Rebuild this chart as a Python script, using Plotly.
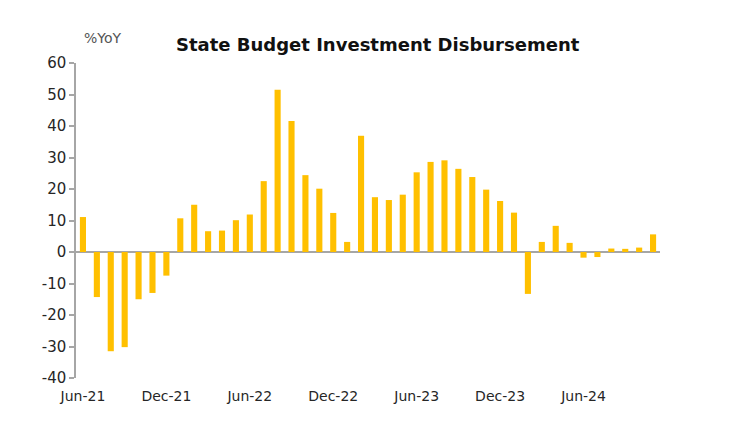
import plotly.graph_objects as go

months = ["Jun-21","Jul-21","Aug-21","Sep-21","Oct-21","Nov-21","Dec-21",
          "Jan-22","Feb-22","Mar-22","Apr-22","May-22","Jun-22","Jul-22","Aug-22","Sep-22","Oct-22","Nov-22","Dec-22",
          "Jan-23","Feb-23","Mar-23","Apr-23","May-23","Jun-23","Jul-23","Aug-23","Sep-23","Oct-23","Nov-23","Dec-23",
          "Jan-24","Feb-24","Mar-24","Apr-24","May-24","Jun-24","Jul-24","Aug-24","Sep-24","Oct-24","Nov-24"]
values = [11.1, -14.3, -31.5, -30.2, -15.0, -13.0, -7.5,
          10.7, 15.0, 6.6, 6.8, 10.1, 11.9, 22.5, 51.5, 41.6, 24.4, 20.1, 12.4,
          3.2, 36.9, 17.4, 16.5, 18.2, 25.3, 28.6, 29.1, 26.4, 23.8, 19.8, 16.2,
          12.5, -13.3, 3.2, 8.3, 2.9, -1.8, -1.6, 1.1, 1.0, 1.4, 5.6]
tick_labels = ["Jun-21", "Dec-21", "Jun-22", "Dec-22", "Jun-23", "Dec-23", "Jun-24"]
y_ticks = [-40, -30, -20, -10, 0, 10, 20, 30, 40, 50, 60]

xs = list(range(len(months)))
tick_pos = [months.index(t) for t in tick_labels]

font_family = "DejaVu Sans"
fig = go.Figure(go.Bar(x=xs, y=values, marker_color="#FFC000", marker_line_width=0,
                       hovertext=months))
fig.update_layout(
    width=730, height=427,
    margin=dict(l=68, r=78, t=55, b=57),
    paper_bgcolor="white", plot_bgcolor="white",
    bargap=0.56, showlegend=False,
    font=dict(family=font_family, size=13, color="#262626"),
)
fig.update_xaxes(range=[-0.5, len(months) - 0.5], tickmode="array",
                 tickvals=tick_pos, ticktext=tick_labels, showgrid=False,
                 showline=False, zeroline=False, ticks="", ticklabelstandoff=8,
                 tickfont=dict(size=14, color="#262626"))
fig.update_yaxes(range=[-40, 60], tickmode="array", tickvals=y_ticks,
                 ticktext=[str(v) for v in y_ticks],
                 showgrid=False, showline=True, linecolor="#A6A6A6", linewidth=1.5,
                 ticks="outside", ticklen=5, tickcolor="#A6A6A6", tickwidth=1.5,
                 zeroline=True, zerolinecolor="#A6A6A6", zerolinewidth=2,
                 tickfont=dict(size=15, color="#262626"))
fig.add_annotation(text="<b>State Budget Investment Disbursement</b>", xref="paper", yref="paper",
                   x=(378 - 76) / (660 - 76), y=1 + (63 - 45) / (378 - 63), xanchor="center", yanchor="middle",
                   showarrow=False, font=dict(size=18, color="#111111", family=font_family))
fig.add_annotation(text="%YoY", xref="paper", yref="paper",
                   x=(82 - 76) / (660 - 76), y=1 + (63 - 38) / (378 - 63), xanchor="left", yanchor="middle",
                   showarrow=False, font=dict(size=14, color="#555555", family=font_family))
fig.write_html("out.html")
